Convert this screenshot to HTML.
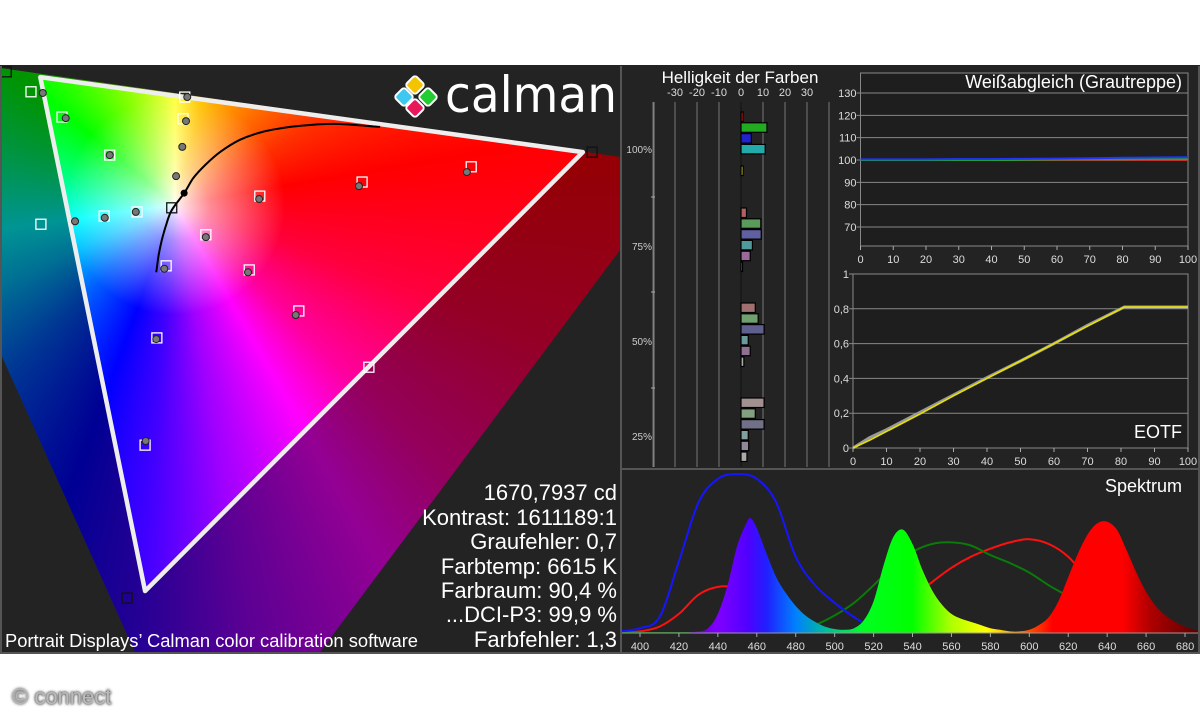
<!DOCTYPE html>
<html><head><meta charset="utf-8">
<style>
html,body{margin:0;padding:0;background:#fff;width:1200px;height:720px;overflow:hidden;font-family:"Liberation Sans",sans-serif}
#bg{position:absolute;left:0;top:65px;width:1200px;height:589px;background:#232323}
#cie{position:absolute;left:0;top:66px;width:620px;height:586px;
 clip-path:polygon(0px 2px,620px 91px,620px 184px,320px 586px,135px 586px,0px 286px);
 background:radial-gradient(circle at 175px 139px,rgba(255,255,255,0.95) 0px,rgba(255,255,255,0.55) 35px,rgba(255,255,255,0) 110px),
 conic-gradient(from 0deg at 175px 139px,#ffff40 0deg,#ffc000 15deg,#ff8000 35deg,#ff3000 60deg,#ff0000 80deg,#ff0040 110deg,#ff00a0 135deg,#ff00ff 150deg,#a000ff 170deg,#4000ff 185deg,#0000ff 200deg,#0060ff 225deg,#00c0ff 245deg,#00ffff 262deg,#00ff80 285deg,#00ff00 310deg,#80ff00 335deg,#ffff40 360deg)}
svg{position:absolute;left:0;top:0}
#connect{position:absolute;left:12px;top:684px;font-size:22px;color:#bbb;text-shadow:0 0 3px #555,0 0 2px #333}
</style></head>
<body>
<div id="bg"></div>
<div id="cie"></div>
<svg id="main" width="1200" height="720">
<g id="ciefx"></g>
<g id="logo">
 <rect x="408" y="78" width="14" height="14" rx="3" fill="#f5c400" stroke="#fff" stroke-width="2" transform="rotate(45 415 85)"/>
 <rect x="397" y="90" width="14" height="14" rx="3" fill="#3cc8f0" stroke="#fff" stroke-width="2" transform="rotate(45 404 97)"/>
 <rect x="421" y="90" width="14" height="14" rx="3" fill="#22cc33" stroke="#fff" stroke-width="2" transform="rotate(45 428 97)"/>
 <rect x="408" y="101" width="14" height="14" rx="3" fill="#e8185a" stroke="#fff" stroke-width="2" transform="rotate(45 415 108)"/>
 <text x="617" y="112" text-anchor="end" font-size="50" fill="#fff" font-family="DejaVu Sans, sans-serif" textLength="172" lengthAdjust="spacingAndGlyphs">calman</text>
</g>
<g id="stats" font-size="22" fill="#fff" text-anchor="end">
 <text x="617" y="500">1670,7937 cd</text>
 <text x="617" y="525">Kontrast: 1611189:1</text>
 <text x="617" y="549">Graufehler: 0,7</text>
 <text x="617" y="574">Farbtemp: 6615 K</text>
 <text x="617" y="598">Farbraum: 90,4 %</text>
 <text x="617" y="622">...DCI-P3: 99,9 %</text>
 <text x="617" y="647">Farbfehler: 1,3</text>
</g>
<text x="5" y="647" font-size="18" fill="#fff" textLength="413" lengthAdjust="spacingAndGlyphs">Portrait Displays’ Calman color calibration software</text>
<g id="panels" fill="none" stroke="#555" stroke-width="2">
 <line x1="621" y1="66" x2="621" y2="654"/>
 <line x1="622" y1="469" x2="1200" y2="469"/>
 <line x1="0" y1="653" x2="1200" y2="653"/>
 <line x1="1" y1="66" x2="1" y2="653"/>
 <line x1="1199" y1="66" x2="1199" y2="653"/>
</g>
<g id="bright"></g>
<g id="weiss"></g>
<g id="eotf"></g>
<g id="spec"></g>
</svg>
<div id="connect">© connect</div>
<script>
const NS='http://www.w3.org/2000/svg';
function mk(parent,tag,attrs,txt){const e=document.createElementNS(NS,tag);for(const k in attrs)e.setAttribute(k,attrs[k]);if(txt!==undefined)e.textContent=txt;parent.appendChild(e);return e;}
function smooth(pts){let d='M'+pts[0][0]+','+pts[0][1];
 for(let i=0;i<pts.length-1;i++){const p0=pts[i-1]||pts[i],p1=pts[i],p2=pts[i+1],p3=pts[i+2]||p2;
  const c1=[p1[0]+(p2[0]-p0[0])/6,p1[1]+(p2[1]-p0[1])/6],c2=[p2[0]-(p3[0]-p1[0])/6,p2[1]-(p3[1]-p1[1])/6];
  d+=' C'+c1[0].toFixed(1)+','+c1[1].toFixed(1)+' '+c2[0].toFixed(1)+','+c2[1].toFixed(1)+' '+p2[0].toFixed(1)+','+p2[1].toFixed(1);}
 return d;}

/* ---------- CIE data (chart units 0-100) ---------- */
const gamutU=[6.5,94.0,23.4];
const gamutV=[98.1,85.3,10.4];
const targetU=[5.0,10.0,29.8,29.5,17.7,6.6,16.8,22.1,41.9,58.4,76.0,33.2,26.8,40.2,48.2,25.3,23.4,59.5];
const targetV=[95.6,91.3,94.7,91.0,84.8,73.0,74.4,75.1,77.8,80.2,82.8,71.2,65.9,65.2,58.2,53.6,35.3,48.6];
const refU=[1.0,95.5,20.5,27.7];
const refV=[99.0,85.3,9.2,75.8];
const measU=[6.9,10.6,30.2,30.0,17.7,29.4,28.4,12.1,16.9,21.9,41.8,57.9,75.3,33.2,26.5,40.0,47.7,25.2,23.5];
const measV=[95.4,91.1,94.7,90.6,84.8,86.2,81.2,73.5,74.1,75.1,77.3,79.5,81.9,70.8,65.4,64.8,57.5,53.4,36.0];
const locusU=[25.2,25.6,26.1,26.8,27.7,29.7,31.2,33.1,35.6,38.7,42.5,46.8,50.8,54.8,61.3];
const locusV=[64.8,67.8,70.3,72.9,75.4,78.3,80.9,83.1,85.4,87.4,88.8,89.6,90.0,90.1,89.6];
const wpU=29.7, wpV=78.3;
const xC=u=>u*6.2, yC=v=>652-v*5.86;

const cf=document.getElementById('ciefx');
const outer='M0,68 L620,157 L620,250 L320,652 L135,652 L0,352 Z';
const tri='M'+xC(gamutU[0])+','+yC(gamutV[0])+' L'+xC(gamutU[1])+','+yC(gamutV[1])+' L'+xC(gamutU[2])+','+yC(gamutV[2])+' Z';
const dk=mk(cf,'path',{d:outer+' '+tri,'fill-rule':'evenodd',fill:'#000','fill-opacity':0.42});


const gt=mk(cf,'path',{d:tri,fill:'none',stroke:'#eee','stroke-width':4.5,'stroke-linejoin':'round'});


const lc=mk(cf,'path',{d:smooth(locusU.map((u,i)=>[xC(u),yC(locusV[i])])),fill:'none',stroke:'#000','stroke-width':2});


const wp=mk(cf,'circle',{cx:xC(wpU),cy:yC(wpV),r:3.5,fill:'#000'});


targetU.forEach((u,i)=>{const r=mk(cf,'rect',{x:xC(u)-5,y:yC(targetV[i])-5,width:10,height:10,fill:'none',stroke:'#fff','stroke-width':1.3});
 
 });
refU.forEach((u,i)=>{const r=mk(cf,'rect',{x:xC(u)-5,y:yC(refV[i])-5,width:10,height:10,fill:'none',stroke:'#111','stroke-width':1.3});
 
 });
measU.forEach((u,i)=>{const c=mk(cf,'circle',{cx:xC(u),cy:yC(measV[i]),r:3.5,fill:'#777',stroke:'#222','stroke-width':1});
 
 });

/* ---------- Helligkeit der Farben ---------- */
const brightTicks=[-30,-20,-10,0,10,20,30];
const brightGroups=['100%','75%','50%','25%'];
const bright100=[1,11.8,4.7,11,0,1];
const bright75=[2.5,9,9.2,5.2,4.2,0.7];
const bright50=[6.5,7.8,10.5,3.3,4.2,1.3];
const bright25=[10.5,6.5,10.5,3.3,3.5,2.7];
const groupColors=[['#cc1111','#22aa22','#2222cc','#22aaaa','#888','#aaaa22'],
 ['#b06060','#5a9a5a','#6060a0','#509a9a','#9a6a9a','#999'],
 ['#a07070','#70a070','#606090','#6a9a9a','#907090','#aaa'],
 ['#a09090','#80a080','#707088','#80a0a0','#908898','#aaa']];
const xB=v=>741+v*2.2;
const bg=document.getElementById('bright');
mk(bg,'text',{x:740,y:83,'font-size':17,fill:'#fff','text-anchor':'middle'},'Helligkeit der Farben');
const bgrid=[-40,-30,-20,-10,10,20,30,40];
bgrid.forEach(v=>mk(bg,'line',{x1:xB(v),y1:102,x2:xB(v),y2:467,stroke:'#777','stroke-width':1}));
mk(bg,'line',{x1:xB(0),y1:102,x2:xB(0),y2:467,stroke:'#111','stroke-width':1});
mk(bg,'line',{x1:654,y1:102,x2:654,y2:467,stroke:'#888','stroke-width':1});
brightTicks.forEach(v=>mk(bg,'text',{x:xB(v),y:96,'font-size':11,fill:'#ddd','text-anchor':'middle'},String(v)));
const groupY=[149,246,341,436];
brightGroups.forEach((g,i)=>mk(bg,'text',{x:652,y:groupY[i]+4,'font-size':10,fill:'#ccc','text-anchor':'end'},g));
[197,292,388].forEach(y=>mk(bg,'line',{x1:651,y1:y,x2:655,y2:y,stroke:'#aaa'}));
const groupTop=[112,208,303,398];
[bright100,bright75,bright50,bright25].forEach((arr,gi)=>{
 arr.forEach((v,j)=>{ if(v<=0)return;
  let y=groupTop[gi]+j*10.8; if(gi===0&&j===5)y=166;
  const r=mk(bg,'rect',{x:xB(0),y:y,width:v*2.2,height:9.5,fill:groupColors[gi][j],stroke:'#000','stroke-width':1.2});
  
  
 });});

/* ---------- Weißabgleich ---------- */
const wbYTicks=[70,80,90,100,110,120,130];
const wbXTicks=[0,10,20,30,40,50,60,70,80,90,100];
const wbX=[0,10,20,30,40,50,60,70,80,90,100];
const wbRed=[100,100,100,100,100,100,100,100,100,100,100];
const wbGreen=[100,100,100,100,100,100.1,100.2,100.3,100.3,100.4,100.4];
const wbBlue=[100.3,100.3,100.3,100.4,100.4,100.5,100.6,100.8,101,101.1,101.2];
const xW=v=>860.5+v*3.275, yW=v=>93+(130-v)*2.233;
const wg=document.getElementById('weiss');
mk(wg,'rect',{x:xW(0),y:73,width:xW(100)-xW(0),height:246-73,fill:'#1e1e1e',stroke:'#888','stroke-width':1});
wbYTicks.forEach(v=>{mk(wg,'line',{x1:xW(0)-4,y1:yW(v),x2:xW(100),y2:yW(v),stroke:'#888'});
 mk(wg,'text',{x:xW(0)-4,y:yW(v)+4,'font-size':11,fill:'#ddd','text-anchor':'end'},String(v));});
wbXTicks.forEach(v=>{mk(wg,'line',{x1:xW(v),y1:246,x2:xW(v),y2:250,stroke:'#aaa'});
 mk(wg,'text',{x:xW(v),y:263,'font-size':11,fill:'#ddd','text-anchor':'middle'},String(v));});
mk(wg,'text',{x:1182,y:88,'font-size':18,fill:'#fff','text-anchor':'end'},'Weißabgleich (Grautreppe)');
[[wbRed,'#dd2222','wb-red-line'],[wbGreen,'#22aa22','wb-green-line'],[wbBlue,'#2233ff','wb-blue-line']].forEach(s=>{
 const p=mk(wg,'polyline',{points:wbX.map((x,i)=>xW(x)+','+yW(s[0][i])).join(' '),fill:'none',stroke:s[1],'stroke-width':2});
 
 });

/* ---------- EOTF ---------- */
const eYTicks=[0,0.2,0.4,0.6,0.8,1];
const eYLabels=['0','0,2','0,4','0,6','0,8','1'];
const eXTicks=[0,10,20,30,40,50,60,70,80,90,100];
const eX=[0,5,10,20,30,40,50,60,70,81,90,100];
const eTarget=[0,0.06,0.105,0.205,0.305,0.405,0.5,0.6,0.705,0.81,0.81,0.81];
const eMeas=[0,0.045,0.095,0.195,0.3,0.4,0.5,0.6,0.7,0.81,0.81,0.81];
const xE=v=>853+v*3.35, yE=v=>448-v*174;
const eg=document.getElementById('eotf');
mk(eg,'rect',{x:xE(0),y:yE(1),width:xE(100)-xE(0),height:174,fill:'#1e1e1e',stroke:'#888','stroke-width':1});
eYTicks.forEach((v,i)=>{mk(eg,'line',{x1:xE(0)-4,y1:yE(v),x2:xE(100),y2:yE(v),stroke:'#888'});
 mk(eg,'text',{x:xE(0)-4,y:yE(v)+4,'font-size':11,fill:'#ddd','text-anchor':'end'},eYLabels[i]);});
eXTicks.forEach(v=>{mk(eg,'line',{x1:xE(v),y1:448,x2:xE(v),y2:452,stroke:'#aaa'});
 mk(eg,'text',{x:xE(v),y:465,'font-size':11,fill:'#ddd','text-anchor':'middle'},String(v));});
mk(eg,'text',{x:1182,y:438,'font-size':18,fill:'#fff','text-anchor':'end'},'EOTF');
const et=mk(eg,'polyline',{points:eX.map((x,i)=>xE(x)+','+yE(eTarget[i])).join(' '),fill:'none',stroke:'#999','stroke-width':3});


const em=mk(eg,'polyline',{points:eX.map((x,i)=>xE(x)+','+yE(eMeas[i])).join(' '),fill:'none',stroke:'#e8e000','stroke-width':1.6});



/* ---------- Spektrum ---------- */
const specTicks=[400,420,440,460,480,500,520,540,560,580,600,620,640,660,680];
const lineNm=[390,400,410,420,430,440,450,460,470,480,490,500,510,520,530,540,550,560,570,580,590,600,610,620,630,640,650,660,670,680,690];
const blueLine=[0.01,0.03,0.1,0.45,0.82,0.97,1.0,0.97,0.82,0.48,0.3,0.19,0.1,0.03,0.01,0,0,0,0,0,0,0,0,0,0,0,0,0,0,0,0];
const redLine=[0,0.01,0.04,0.12,0.24,0.29,0.28,0.2,0.12,0.05,0.02,0.01,0.02,0.05,0.1,0.22,0.32,0.41,0.48,0.53,0.57,0.59,0.56,0.48,0.34,0.2,0.09,0.03,0.01,0,0];
const greenLine=[0,0,0,0,0,0,0,0,0,0.01,0.05,0.11,0.19,0.3,0.42,0.51,0.56,0.57,0.55,0.49,0.44,0.38,0.3,0.23,0.15,0.09,0.05,0.02,0.01,0,0];
const fillNm=[410,420,430,435,440,445,450,455,457,460,465,470,475,480,485,490,495,500,505,510,515,520,525,530,535,540,545,550,555,560,565,570,575,580,585,590,595,600,605,610,615,620,625,630,635,640,645,650,655,660,665,670,675,680,685,690];
const fillVal=[0,0,0.01,0.03,0.12,0.3,0.55,0.7,0.72,0.66,0.5,0.35,0.25,0.17,0.11,0.07,0.04,0.025,0.02,0.03,0.08,0.2,0.42,0.6,0.65,0.56,0.4,0.27,0.18,0.12,0.09,0.07,0.05,0.03,0.02,0.01,0.01,0.02,0.05,0.1,0.2,0.35,0.5,0.62,0.69,0.7,0.65,0.52,0.38,0.26,0.17,0.11,0.07,0.04,0.02,0.01];
const xS=nm=>640+(nm-400)*1.9465, yS=v=>633-v*159;
const sg=document.getElementById('spec');
const defs=mk(sg,'defs',{});
const grad=mk(defs,'linearGradient',{id:'wl',gradientUnits:'userSpaceOnUse',x1:xS(420),y1:0,x2:xS(690),y2:0});
[[420,'#5000a0'],[440,'#8000ff'],[455,'#5000ff'],[465,'#2020ff'],[480,'#0080ff'],[492,'#00b0b0'],[505,'#00e060'],[515,'#00ff20'],[540,'#00ff00'],[560,'#b0ff00'],[578,'#ffff00'],[590,'#ffb000'],[600,'#ff5000'],[612,'#ff0000'],[648,'#ff0000'],[662,'#b00000'],[690,'#500000']].forEach(s=>mk(grad,'stop',{offset:((s[0]-420)/270).toFixed(3),'stop-color':s[1]}));
const cp=mk(defs,'clipPath',{id:'specclip'});mk(cp,'rect',{x:622,y:470,width:576,height:163});
const sl=mk(sg,'g',{'clip-path':'url(#specclip)'});
[[redLine,'#ff1010','spectrum-red-line'],[greenLine,'#0a7a0a','spectrum-green-line'],[blueLine,'#1515ff','spectrum-blue-line']].forEach(s=>{
 const p=mk(sl,'path',{d:smooth(lineNm.map((n,i)=>[xS(n),yS(s[0][i])])),fill:'none',stroke:s[1],'stroke-width':2});
 
 });
const fpts=fillNm.map((n,i)=>[xS(n),yS(fillVal[i])]);
const fp=smooth(fpts)+' L'+xS(fillNm[fillNm.length-1])+','+yS(0)+' L'+xS(fillNm[0])+','+yS(0)+' Z';
const fpath=mk(sl,'path',{d:fp,fill:'url(#wl)'});


mk(sg,'line',{x1:622,y1:633,x2:1198,y2:633,stroke:'#999'});
specTicks.forEach(n=>{mk(sg,'line',{x1:xS(n),y1:633,x2:xS(n),y2:637,stroke:'#aaa'});
 mk(sg,'text',{x:xS(n),y:650,'font-size':11,fill:'#ddd','text-anchor':'middle'},String(n));});
mk(sg,'text',{x:1182,y:492,'font-size':18,fill:'#fff','text-anchor':'end'},'Spektrum');
</script>
</body></html>
